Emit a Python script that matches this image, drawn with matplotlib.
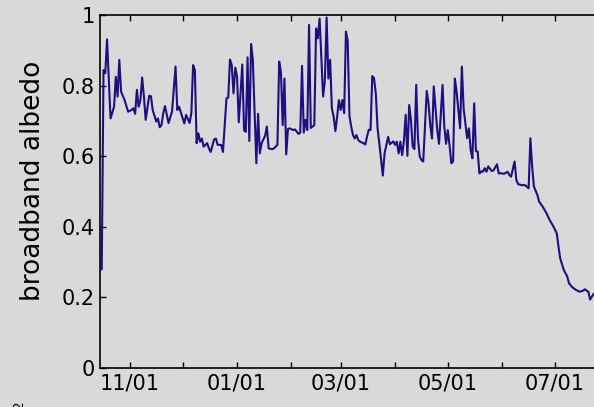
import numpy as np
import pandas as pd
import matplotlib
matplotlib.use('Agg')
import matplotlib.pyplot as plt
import matplotlib.dates as mdates
from matplotlib.ticker import FuncFormatter

# day offsets from 15 Oct and the broadband albedo
start = pd.Timestamp('2006-10-15')
days = [1, 2, 3, 4, 6, 8, 9, 10, 11, 12, 14, 16, 18, 19, 20, 21, 22, 23, 24, 25,
        26, 28, 29, 30, 32, 33, 34, 35, 36, 37, 39, 41, 43, 44, 45, 48, 49, 51, 52, 53,
        54, 55, 56, 57, 58, 59, 61, 62, 63, 65, 66, 67, 69, 70, 72, 73, 74, 75, 76, 77,
        78, 79, 81, 82, 83, 84, 85, 86, 87, 89, 90, 91, 92, 94, 95, 96, 98, 99, 101, 102,
        103, 104, 105, 106, 107, 108, 110, 111, 113, 114, 115, 116, 117, 118, 119, 120, 121, 122, 123, 124,
        125, 126, 127, 128, 129, 130, 131, 132, 133, 134, 135, 136, 137, 138, 139, 140, 141, 142, 143, 144,
        145, 146, 147, 148, 150, 151, 152, 153, 154, 155, 156, 157, 158, 159, 161, 162, 164, 165, 167, 168,
        169, 170, 171, 172, 173, 174, 175, 176, 177, 178, 179, 180, 181, 182, 183, 184, 185, 186, 187, 188,
        189, 190, 191, 192, 193, 195, 196, 197, 198, 199, 200, 201, 202, 203, 204, 205, 206, 207, 208, 209,
        210, 211, 212, 213, 214, 215, 216, 217, 218, 219, 220, 221, 223, 224, 226, 227, 228, 229, 230, 232,
        233, 234, 236, 237, 238, 240, 242, 244, 245, 246, 247, 249, 250, 252, 254, 256, 258, 260, 261, 262,
        264, 266, 267, 269, 271, 273, 275, 276, 278, 279, 280, 281, 283, 285]
albedo = [0.28, 0.844, 0.835, 0.931, 0.707, 0.74, 0.825, 0.769, 0.873, 0.783, 0.759, 0.726, 0.731, 0.736, 0.72, 0.788, 0.74, 0.759, 0.823, 0.769,
          0.703, 0.771, 0.77, 0.731, 0.698, 0.707, 0.682, 0.688, 0.722, 0.742, 0.694, 0.726, 0.854, 0.731, 0.74, 0.693, 0.717, 0.694, 0.722, 0.858,
          0.844, 0.637, 0.665, 0.641, 0.65, 0.627, 0.637, 0.622, 0.612, 0.648, 0.65, 0.632, 0.632, 0.612, 0.764, 0.766, 0.874, 0.858, 0.778, 0.851,
          0.826, 0.696, 0.86, 0.674, 0.669, 0.88, 0.643, 0.918, 0.873, 0.58, 0.72, 0.608, 0.637, 0.658, 0.684, 0.622, 0.62, 0.622, 0.632, 0.868,
          0.838, 0.688, 0.82, 0.605, 0.677, 0.679, 0.674, 0.676, 0.663, 0.667, 0.856, 0.667, 0.703, 0.674, 0.972, 0.68, 0.684, 0.688, 0.962, 0.934,
          0.99, 0.882, 0.769, 0.815, 0.993, 0.82, 0.873, 0.735, 0.712, 0.671, 0.712, 0.759, 0.731, 0.759, 0.722, 0.953, 0.927, 0.714, 0.684, 0.66,
          0.65, 0.66, 0.646, 0.641, 0.637, 0.633, 0.655, 0.675, 0.674, 0.827, 0.821, 0.778, 0.679, 0.637, 0.545, 0.608, 0.655, 0.634, 0.642, 0.632,
          0.641, 0.608, 0.641, 0.603, 0.643, 0.717, 0.601, 0.745, 0.703, 0.627, 0.62, 0.802, 0.65, 0.599, 0.589, 0.585, 0.684, 0.785, 0.75, 0.688,
          0.65, 0.798, 0.735, 0.674, 0.635, 0.802, 0.684, 0.635, 0.674, 0.63, 0.58, 0.585, 0.82, 0.783, 0.731, 0.679, 0.854, 0.735, 0.693, 0.651,
          0.679, 0.618, 0.594, 0.75, 0.615, 0.613, 0.551, 0.557, 0.556, 0.566, 0.556, 0.571, 0.558, 0.56, 0.577, 0.551, 0.552, 0.551, 0.55, 0.556,
          0.547, 0.542, 0.585, 0.533, 0.521, 0.518, 0.518, 0.509, 0.651, 0.571, 0.514, 0.49, 0.471, 0.457, 0.44, 0.419, 0.402, 0.382, 0.344, 0.31,
          0.278, 0.259, 0.24, 0.228, 0.221, 0.216, 0.219, 0.223, 0.216, 0.194, 0.202, 0.21, 0.215, 0.22]

dates = start + pd.to_timedelta(days, unit='D')

bg = '#d9d9d9'
fig = plt.figure(figsize=(5.94, 4.07), dpi=100, facecolor=bg)
# axes runs off the right edge of the figure, as in the original crop
ax = fig.add_axes([100/594, 39/407, 527/594, 353/407], facecolor=bg)

ax.plot(dates, albedo, color='#1c1080', linewidth=1.5)

ax.set_xlim(start, start + pd.Timedelta(days=300))
ax.set_ylim(0, 1)
ax.set_yticks([0, 0.2, 0.4, 0.6, 0.8, 1])
ax.set_yticklabels(['0', '0.2', '0.4', '0.6', '0.8', '1'])

ax.xaxis.set_major_locator(mdates.MonthLocator(bymonthday=1))
def month_label(x, pos):
    d = mdates.num2date(x)
    return d.strftime('%m/%d') if d.month % 2 == 1 else ''
ax.xaxis.set_major_formatter(FuncFormatter(month_label))

ax.tick_params(direction='in', length=4, width=1, labelsize=15, top=True,
               right=False, colors='black', pad=4)
for s in ax.spines.values():
    s.set_linewidth(1.2)

fig.text(33/594, 1 - 181/407, 'broadband albedo', rotation=90,
         ha='center', va='center', fontsize=19)
fig.text(12/594, -2/407, '2', rotation=90, ha='left', va='bottom', fontsize=10)

fig.savefig('out.png', dpi=100, facecolor=bg)
